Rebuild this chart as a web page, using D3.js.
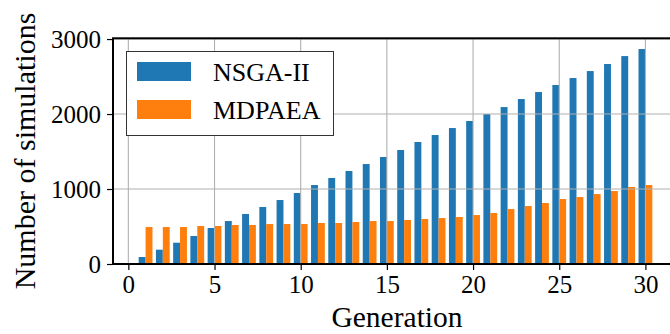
<!DOCTYPE html>
<html>
<head>
<meta charset="utf-8">
<script src="https://cdn.jsdelivr.net/npm/d3@7"></script>
<style>
  html, body { margin: 0; padding: 0; background: #fff; }
  svg { display: block; font-family: "Liberation Serif", "DejaVu Serif", serif; }
</style>
</head>
<body>
<svg id="chart" width="670" height="334"></svg>
<script>
    // data
    var generations = d3.range(1, 31),
        nsga = [93, 191, 284, 373, 480, 573, 667, 760, 853, 947,
                1053, 1147, 1240, 1333, 1427, 1520, 1627, 1720, 1813, 1907,
                2000, 2093, 2200, 2293, 2387, 2480, 2573, 2667, 2773, 2867],
        mdpaea = [493, 493, 493, 507, 507, 520, 520, 533, 533, 533,
                  547, 547, 560, 573, 573, 587, 600, 613, 627, 653,
                  680, 733, 773, 813, 867, 893, 933, 973, 1027, 1053],
        seriesNames = ["NSGA-II", "MDPAEA"],
        colors = ["#1f77b4", "#ff7f0e"],
        xTicks = [0, 5, 10, 15, 20, 25, 30],
        yTicks = [0, 1000, 2000, 3000];

(function() {
    'use strict';
    var svg = d3.select("#chart"),
        m = {left: 113, right: 678, top: 38.3, bottom: 264},
        barW = 0.4,
        serif = "Liberation Serif, serif";

    var x = d3.scaleLinear().domain([-0.89, 31.89]).range([m.left, m.right]),
        y = d3.scaleLinear().domain([0, 3010]).range([m.bottom, m.top]);

    var series = [nsga, mdpaea];

    // bars
    series.forEach(function(vals, si) {
        svg.append("g").selectAll("rect")
            .data(vals)
            .enter().append("rect")
            .attr("x", function(d, i) { return x(generations[i] - barW + si * barW); })
            .attr("width", x(barW) - x(0))
            .attr("y", function(d) { return y(d); })
            .attr("height", function(d) { return y(0) - y(d); })
            .attr("fill", colors[si]);
    });

    // grid (drawn over the bars like the original)
    var grid = svg.append("g").attr("stroke", "#b0b0b0").attr("stroke-width", 1.1);
    grid.selectAll(".gx").data(xTicks).enter().append("line")
        .attr("x1", function(d) { return x(d); }).attr("x2", function(d) { return x(d); })
        .attr("y1", m.top).attr("y2", m.bottom);
    grid.selectAll(".gy").data(yTicks).enter().append("line")
        .attr("x1", m.left).attr("x2", m.right)
        .attr("y1", function(d) { return y(d); }).attr("y2", function(d) { return y(d); });

    // axes
    var xAxis = svg.append("g")
        .attr("transform", "translate(0," + m.bottom + ")")
        .call(d3.axisBottom(x).tickValues(xTicks).tickSize(6).tickPadding(5));
    var yAxis = svg.append("g")
        .attr("transform", "translate(" + m.left + ",0)")
        .call(d3.axisLeft(y).tickValues(yTicks).tickSize(6).tickPadding(6).tickFormat(d3.format("d")));

    [xAxis, yAxis].forEach(function(a) {
        a.attr("font-family", serif).attr("font-size", 25);
        a.selectAll(".domain").remove();
        a.selectAll(".tick line").attr("stroke", "#000").attr("stroke-width", 1.2);
        a.selectAll("text").attr("fill", "#000");
    });

    // spines
    svg.append("rect")
        .attr("x", m.left).attr("y", m.top)
        .attr("width", m.right - m.left).attr("height", m.bottom - m.top)
        .attr("fill", "none").attr("stroke", "#000").attr("stroke-width", 2);

    // axis labels
    svg.append("text")
        .attr("x", 397).attr("y", 327)
        .attr("text-anchor", "middle").attr("font-size", 29.5)
        .attr("font-family", serif)
        .text("Generation");
    svg.append("text")
        .attr("transform", "translate(35,151) rotate(-90)")
        .attr("text-anchor", "middle").attr("font-size", 30)
        .attr("font-family", serif)
        .text("Number of simulations");

    // legend
    var lg = svg.append("g").attr("font-family", serif);
    lg.append("rect")
        .attr("x", 126.5).attr("y", 51.5).attr("width", 207).attr("height", 84)
        .attr("fill", "#fff").attr("stroke", "#333").attr("stroke-width", 1);
    seriesNames.forEach(function(name, i) {
        var cy = 71.5 + i * 38;
        lg.append("rect")
            .attr("x", 137).attr("y", cy - 9.5).attr("width", 54).attr("height", 19)
            .attr("fill", colors[i]);
        lg.append("text")
            .attr("x", 213).attr("y", cy).attr("dy", "0.35em")
            .attr("font-size", 26)
            .text(name);
    });
})();
</script>
</body>
</html>
